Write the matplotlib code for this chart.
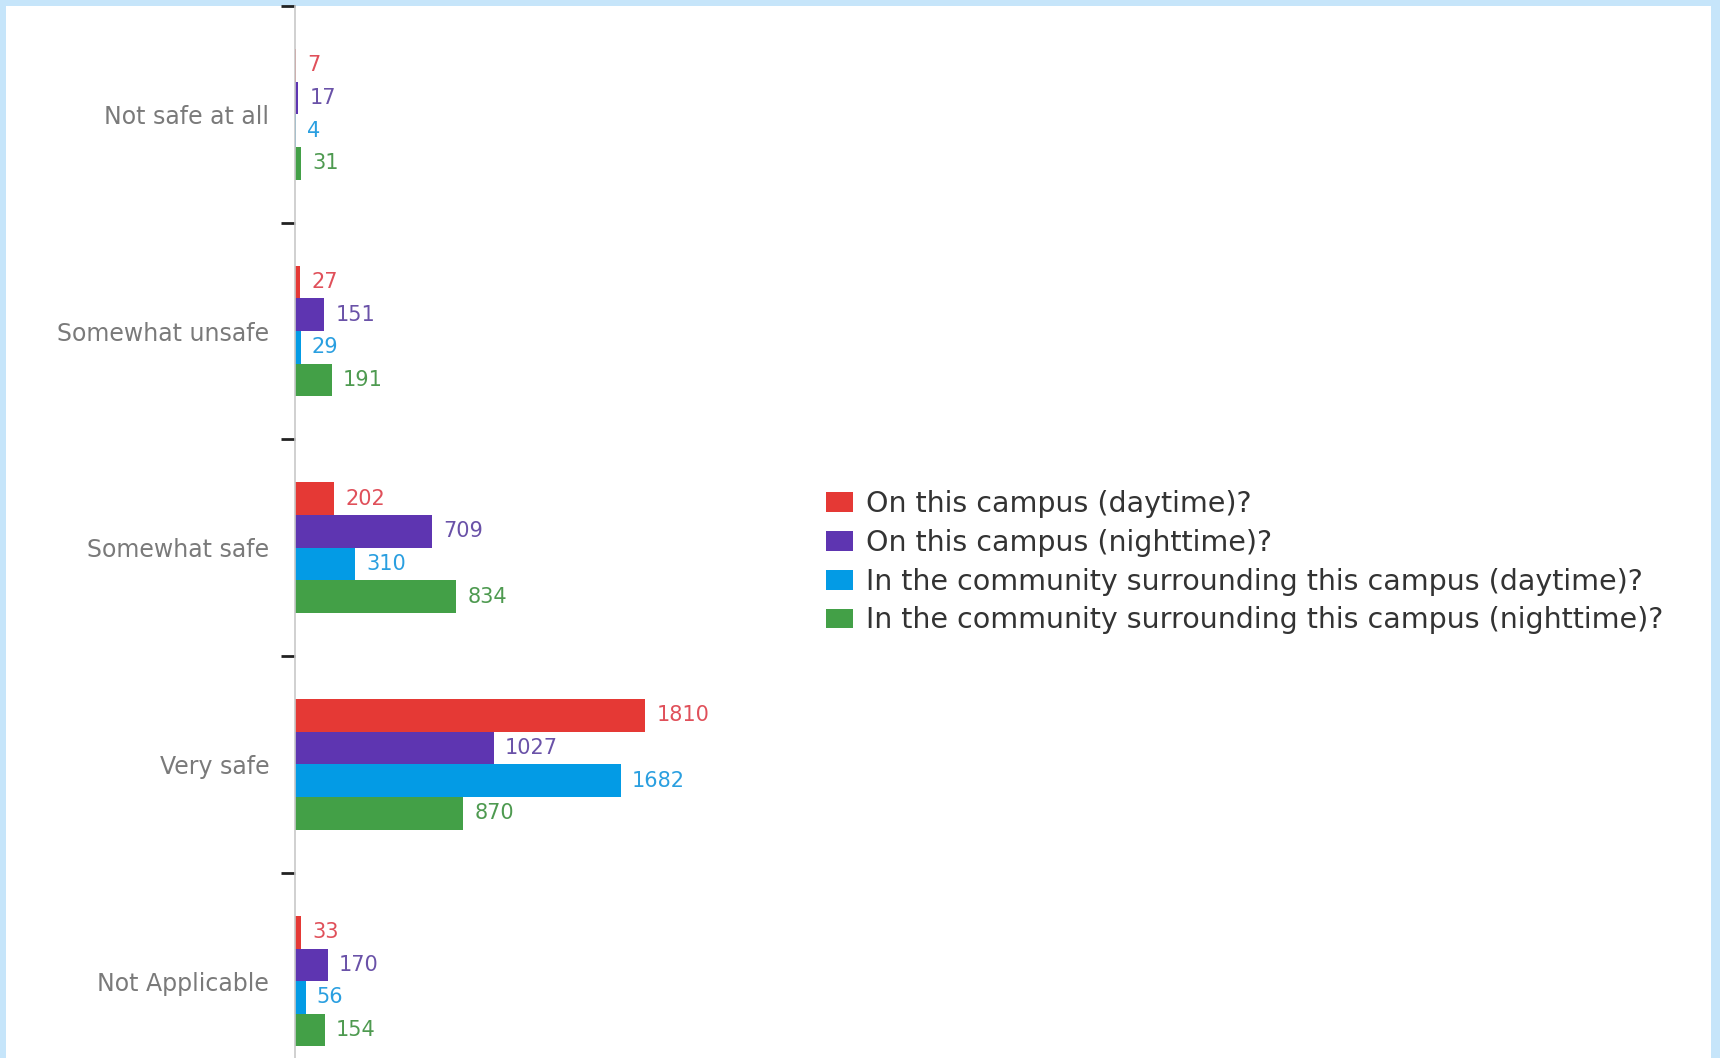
import matplotlib
matplotlib.use("Agg")
import matplotlib.pyplot as plt
from matplotlib.patches import Rectangle, Patch
import numpy as np

# Survey responses: how safe do you feel ...
categories = ["Not safe at all", "Somewhat unsafe", "Somewhat safe", "Very safe", "Not Applicable"]
series_names = [
    "On this campus (daytime)?",
    "On this campus (nighttime)?",
    "In the community surrounding this campus (daytime)?",
    "In the community surrounding this campus (nighttime)?",
]
campus_day = [7, 27, 202, 1810, 33]
campus_night = [17, 151, 709, 1027, 170]
community_day = [4, 29, 310, 1682, 56]
community_night = [31, 191, 834, 870, 154]

series_values = [campus_day, campus_night, community_day, community_night]
bar_colors = ["#E53935", "#5E35B1", "#039BE5", "#43A047"]
label_colors = ["#E0505A", "#6A52A8", "#2A9FE0", "#4E9A50"]

W, H = 1720, 1058
fig = plt.figure(figsize=(W / 100, H / 100), dpi=100)
fig.patch.set_facecolor("#C6E5FA")

# white panel inside the light-blue frame
fig.add_artist(Rectangle((6 / W, 0), (W - 9 - 6) / W, 1 - 6 / H,
                         transform=fig.transFigure, facecolor="white",
                         edgecolor="none", zorder=0))

# axes laid out so that each category band is ~217 px tall
band_px = 216.7
top_px = 6
ax_left_px = 295
ax_right_px = W - 3
ax_h_px = band_px * len(categories)
ax = fig.add_axes([ax_left_px / W, 1 - (top_px + ax_h_px) / H,
                   (ax_right_px - ax_left_px) / W, ax_h_px / H])
ax.set_facecolor("none")

px_per_unit = 0.1936
ax.set_xlim(0, (ax_right_px - ax_left_px) / px_per_unit)
ax.set_ylim(len(categories) - 0.5, -0.5)

n = len(series_values)
bar_h = 0.1506
y = np.arange(len(categories))
for i, (vals, col, lcol) in enumerate(zip(series_values, bar_colors, label_colors)):
    offs = (i - (n - 1) / 2) * bar_h
    ax.barh(y + offs, vals, height=bar_h, color=col, edgecolor="none", zorder=2)
    for yy, v in zip(y + offs, vals):
        ax.annotate(str(v), (v, yy), xytext=(11, 0), textcoords="offset pixels",
                    ha="left", va="center", color=lcol, fontsize=15,
                    family="DejaVu Sans")

# ticks at category boundaries, labels at category centres
ax.set_yticks(np.arange(-0.5, len(categories) + 0.5, 1.0))
ax.set_yticklabels([])
ax.set_yticks(y, minor=True)
ax.set_yticklabels(categories, minor=True, color="#7a7a7a", fontsize=17,
                   family="DejaVu Sans")
ax.tick_params(axis="y", which="major", length=10, width=2, color="#222222")
ax.tick_params(axis="y", which="minor", length=0, pad=18.5)
ax.set_xticks([])
for s in ["top", "right", "bottom"]:
    ax.spines[s].set_visible(False)
ax.spines["left"].set_color("#c8c8c8")
ax.spines["left"].set_linewidth(1.2)

handles = [Patch(facecolor=c, edgecolor="none") for c in bar_colors]
fig.legend(handles, series_names, loc="upper left",
           bbox_to_anchor=(826 / W, 1 - 490 / H), frameon=False,
           prop={"family": "DejaVu Sans", "size": 20.5}, labelcolor="#333333",
           handlelength=0.95, handleheight=0.7, handletextpad=0.45,
           labelspacing=0.38, borderpad=0, borderaxespad=0)

fig.savefig("out.png", dpi=100, facecolor=fig.get_facecolor())
